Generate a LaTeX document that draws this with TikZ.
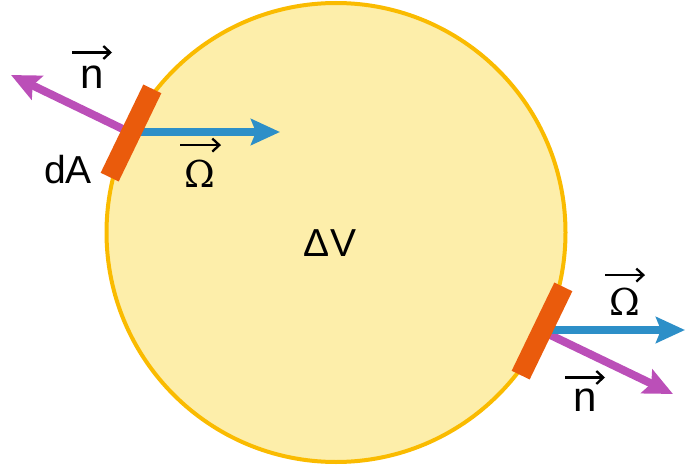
\documentclass[tikz,border=0pt]{standalone}
\usepackage{fontspec}
\setmainfont{Liberation Sans}
\newfontfamily\serifgreek{DejaVu Serif}
\usetikzlibrary{arrows.meta}
\definecolor{volfill}{RGB}{253,238,170}
\definecolor{volline}{RGB}{250,187,0}
\definecolor{patch}{RGB}{234,91,12}
\definecolor{normalc}{RGB}{187,79,184}
\definecolor{omegac}{RGB}{45,143,200}
\tikzset{
  vol/.style={draw=volline, fill=volfill, line width=4pt},
  patchbox/.style={rectangle, fill=patch, minimum width=20pt, minimum height=98pt, inner sep=0pt, rotate=-25.8},
  normarrow/.style={draw=normalc, line width=8pt, -{Stealth[length=29pt,width=26pt,inset=5pt]}},
  omarrow/.style={draw=omegac, line width=8pt, -{Stealth[length=29pt,width=26pt,inset=5pt]}},
  vecarrow/.style={draw=black, line width=2.3pt, -{Straight Barb[length=7pt,width=13pt,line width=2.3pt]}},
  lbl/.style={inner sep=0pt, font=\fontsize{39}{39}\selectfont},
  nlbl/.style={inner sep=0pt, font=\fontsize{42}{42}\selectfont},
  omlbl/.style={inner sep=0pt, font=\serifgreek\fontsize{37}{37}\selectfont},
}
\begin{document}
\begin{tikzpicture}[x=1pt,y=-1pt]
\useasboundingbox (0,0) rectangle (685,468);
% control volume
\coordinate (C) at (336,232.5);
\node[vol, circle, minimum size=459pt, inner sep=0pt] (V) at (C) {};
% anchor points of the patches
\coordinate (P1) at (131,133);
\coordinate (P2) at (542,331);
\coordinate (N1) at (11,75);
\coordinate (O1) at (280,132);
\coordinate (N2) at (673,394);
\coordinate (O2) at (685,330);
% arrows
\draw[normarrow] (P1) -- (N1);
\draw[omarrow] (P1 |- O1) -- (O1);
\draw[normarrow] (P2) -- (N2);
\draw[omarrow] (P2 |- O2) -- (O2);
% surface patches
\node[patchbox] (A1) at (P1) {};
\node[patchbox] (A2) at (P2) {};
% labels
\node[lbl] (dV) at (330,243) {ΔV};
\node[lbl] (dA) at (68,170) {dA};
\node[nlbl] (n1) at (92,77) {n};
\draw[vecarrow] ([xshift=-20pt,yshift=13pt]n1.north) -- ([xshift=20pt,yshift=13pt]n1.north);
\node[omlbl] (om1) at (200,174) {Ω};
\draw[vecarrow] ([xshift=-20pt,yshift=15pt]om1.north) -- ([xshift=21pt,yshift=15pt]om1.north);
\node[omlbl] (om2) at (625,302) {Ω};
\draw[vecarrow] ([xshift=-20pt,yshift=13pt]om2.north) -- ([xshift=20pt,yshift=13pt]om2.north);
\node[nlbl] (n2) at (585,400) {n};
\draw[vecarrow] ([xshift=-20pt,yshift=11pt]n2.north) -- ([xshift=20pt,yshift=11pt]n2.north);
\end{tikzpicture}
\end{document}
